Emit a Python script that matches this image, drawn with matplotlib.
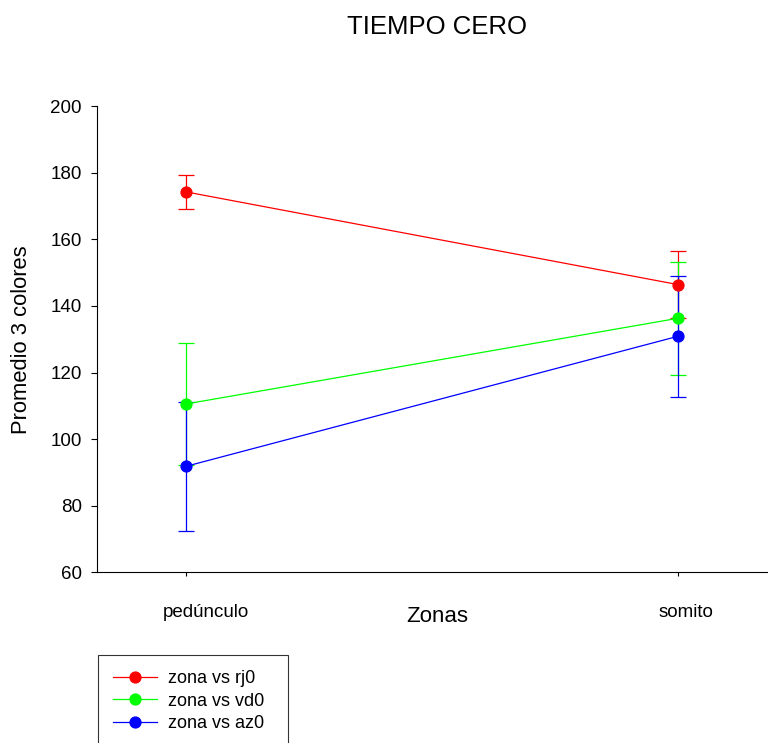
import matplotlib
matplotlib.use("Agg")
import matplotlib.pyplot as plt
from matplotlib.lines import Line2D
from matplotlib.transforms import ScaledTranslation

plt.rcParams['font.family'] = ['Liberation Sans', 'DejaVu Sans']

# datos
zonas = ["pedúnculo", "somito"]
rj0 = [174.2, 146.4]
rj0_err = [5.2, 10.0]
vd0 = [110.6, 136.3]
vd0_err = [18.2, 17.0]
az0 = [91.9, 130.9]
az0_err = [19.3, 18.2]
etiquetas = ["zona vs rj0", "zona vs vd0", "zona vs az0"]
colores = ["#ff0000", "#00ff00", "#0000ff"]

fig = plt.figure(figsize=(7.68, 7.43), dpi=100)
ax = fig.add_axes([0.1263, 0.2295, 0.8737, 0.6278])

x = list(range(len(zonas)))
handles = []
for medias, errores, lab, col in zip([rj0, vd0, az0], [rj0_err, vd0_err, az0_err], etiquetas, colores):
    ax.errorbar(x, medias, yerr=errores, color=col, marker='o', markersize=7.8,
                linewidth=0.9, elinewidth=0.9, capsize=5.5, capthick=0.9)
    handles.append(Line2D([], [], color=col, marker='o', markersize=7.8, linewidth=0.9, label=lab))

ax.set_xlim(-0.182, 1.183)
ax.set_ylim(60, 200)
ax.set_yticks(range(60, 201, 20))
ax.set_xticks(x)
ax.set_xticklabels(zonas)
ax.spines['top'].set_visible(False)
ax.spines['right'].set_visible(False)
ax.tick_params(axis='both', direction='out', labelsize=13.5, width=0.8)
ax.tick_params(axis='y', length=4, pad=7)
ax.tick_params(axis='x', length=3, pad=20)

# las etiquetas del eje x no estan centradas en su marca en el original
desplaz = [0.19, 0.08]
for lbl, dx in zip(ax.get_xticklabels(), desplaz):
    lbl.set_transform(lbl.get_transform() + ScaledTranslation(dx, 0, fig.dpi_scale_trans))

fig.text(0.569, 0.9640, "TIEMPO CERO", ha='center', va='center', fontsize=18.5)
fig.text(0.569, 0.1696, "Zonas", ha='center', va='center', fontsize=16)
fig.text(0.028, 0.5424, "Promedio 3 colores", ha='center', va='center', rotation=90, fontsize=15.8)

leg = fig.legend(handles=handles, loc='upper left',
                 bbox_to_anchor=(98 / 768, 1 - 655 / 743, 190 / 768, 0.0),
                 mode='expand', fontsize=13, frameon=True, fancybox=False,
                 edgecolor='black', handlelength=2.4, handletextpad=0.6,
                 labelspacing=0.3, borderpad=0.85, borderaxespad=0)
leg.get_frame().set_linewidth(0.8)

fig.savefig("out.png", dpi=100)
